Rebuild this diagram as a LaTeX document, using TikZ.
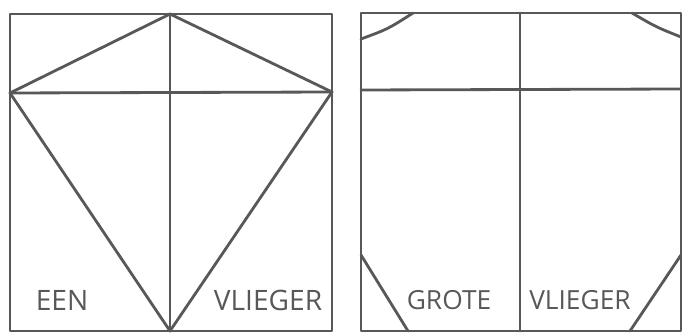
\documentclass[tikz,border=0pt]{standalone}
\usepackage{fontspec}
\setsansfont{Open Sans}
\usepackage{tikz}
\usetikzlibrary{positioning, calc}
\definecolor{pencil}{RGB}{88,88,88}

\begin{document}
\begin{tikzpicture}[x=0.02cm, y=-0.02cm,
    line/.style={pencil, line width=1.6pt, line join=round, line cap=round},
    label/.style={pencil, font=\sffamily\fontsize{16}{16}\selectfont, inner sep=0pt},
    small label/.style={label, font=\sffamily\fontsize{15}{15}\selectfont}]
  \useasboundingbox (0,0) rectangle (682,334);
  % left sheet: the kite
  \coordinate (lTL) at (10,14);
  \coordinate (lBR) at (332,331);
  \coordinate (kTop) at (170,14);
  \coordinate (kBot) at (170,331);
  \coordinate (kL) at (10,93);
  \coordinate (kR) at (332,92);
  \draw[line] (lTL) rectangle (lBR);
  \draw[line] (kTop) -- (kBot);
  \draw[line] (kL) -- (kR);
  \draw[line] (kL) -- (kTop) -- (kR) -- (kBot) -- cycle;
  \node[label] (een) at (62,300) {EEN};
  \node[label] (vliegL) at (268,300) {VLIEGER};
  % right sheet: corners cut off
  \coordinate (rTL) at (361,13);
  \coordinate (rBR) at (681,331);
  \coordinate (rTop) at (520,13);
  \coordinate (rBot) at (520,331);
  \coordinate (rL) at (361,90);
  \coordinate (rR) at (681,89);
  \draw[line] (rTL) rectangle (rBR);
  \draw[line] (rTop) -- (rBot);
  \draw[line] (rL) -- (rR);
  \draw[line] (361,39) .. controls (388,29) .. (413,13);
  \draw[line] (632,13) .. controls (656,27) .. (681,37);
  \draw[line] (361,255) -- (408,331);
  \draw[line] (681,255) -- (630,331);
  \node[small label] (grote) at (449,300) {GROTE};
  \node[small label] (vliegR) at (580,300) {VLIEGER};
\end{tikzpicture}
\end{document}
